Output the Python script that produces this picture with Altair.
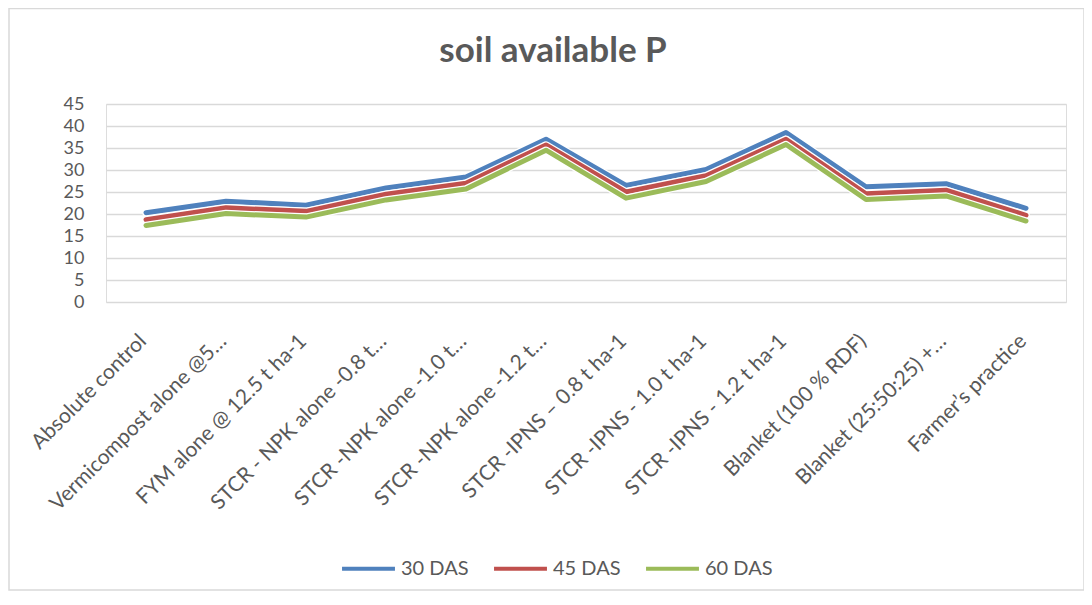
import altair as alt
import pandas as pd

categories = [
    "Absolute control",
    "Vermicompost alone @5…",
    "FYM alone @ 12.5 t ha-1",
    "STCR - NPK alone -0.8 t…",
    "STCR -NPK alone -1.0 t…",
    "STCR -NPK alone -1.2 t…",
    "STCR -IPNS – 0.8 t ha-1",
    "STCR -IPNS - 1.0 t ha-1",
    "STCR -IPNS - 1.2 t ha-1",
    "Blanket (100 % RDF)",
    "Blanket (25:50:25) +…",
    "Farmer’s practice",
]
das30 = [20.3, 22.9, 22.0, 25.9, 28.4, 37.0, 26.5, 30.1, 38.5, 26.2, 26.9, 21.3]
das45 = [18.7, 21.4, 20.6, 24.5, 27.0, 35.7, 25.0, 28.7, 37.0, 24.6, 25.4, 19.7]
das60 = [17.4, 20.1, 19.3, 23.2, 25.7, 34.5, 23.6, 27.4, 35.8, 23.3, 24.1, 18.4]
series_names = ["30 DAS", "45 DAS", "60 DAS"]
series_colors = ["#4F81BD", "#C0504D", "#9BBB59"]
y_ticks = list(range(0, 50, 5))

rows = []
for name, vals in zip(series_names, [das30, das45, das60]):
    for c, v in zip(categories, vals):
        rows.append({"cat": c, "val": v, "series": name})
df = pd.DataFrame(rows)

FONT = "Lato"
TXT = "#595959"

x_enc = alt.X(
    "cat:N",
    sort=categories,
    scale=alt.Scale(type="point", padding=0.5),
    axis=alt.Axis(
        title=None, labelAngle=-45, labelFontSize=21, labelColor=TXT,
        labelFont=FONT, ticks=False, domain=False, labelPadding=28,
        labelOffset=-11, labelLimit=300,
    ),
)
y_enc = alt.Y(
    "val:Q",
    scale=alt.Scale(domain=[0, 45], nice=False),
    axis=alt.Axis(
        title=None, values=y_ticks, labelFontSize=18, labelColor=TXT,
        labelFont=FONT, ticks=False, domain=False, labelPadding=22,
        gridColor="#D9D9D9", gridWidth=1.5,
    ),
)
color_enc = alt.Color(
    "series:N",
    scale=alt.Scale(domain=series_names, range=series_colors),
    legend=alt.Legend(
        title=None, orient="none", direction="horizontal",
        legendX=234, legendY=436, symbolType="stroke", symbolSize=2800,
        symbolStrokeWidth=4, labelFontSize=20, labelColor=TXT,
        labelFont=FONT, columnPadding=17, labelOffset=4,
    ),
)

frame = alt.Chart(pd.DataFrame({"f": [0]})).mark_rect(
    fill=None, stroke="#D9D9D9", strokeWidth=1.5
).encode(
    x=alt.value(-97), x2=alt.value(978), y=alt.value(-95.5), y2=alt.value(486)
)

layers = [frame]
for i, name in enumerate(series_names):
    sub = alt.Chart(df).transform_filter(alt.datum.series == name)
    layers.append(
        sub.mark_line(strokeWidth=7.5, color="white", strokeCap="round", strokeJoin="round")
        .encode(x=x_enc, y=y_enc, detail="series:N")
    )
    layers.append(
        sub.mark_line(strokeWidth=5, strokeCap="round", strokeJoin="round")
        .encode(x=x_enc, y=y_enc, color=color_enc)
    )

chart = (
    alt.layer(*layers)
    .properties(
        width=960,
        height=198,
        autosize=alt.AutoSizeParams(type="none"),
        padding={"left": 98, "top": 96, "right": 18, "bottom": 290},
        title=alt.TitleParams(
            "soil available P", fontSize=35, fontWeight="bold", color=TXT,
            font=FONT, offset=28, dx=-33, dy=89, anchor="middle",
        ),
    )
    .configure_view(stroke=None)
    .configure(background="white")
)

chart.save("out.html", embed_options={"renderer": "svg", "actions": False})
